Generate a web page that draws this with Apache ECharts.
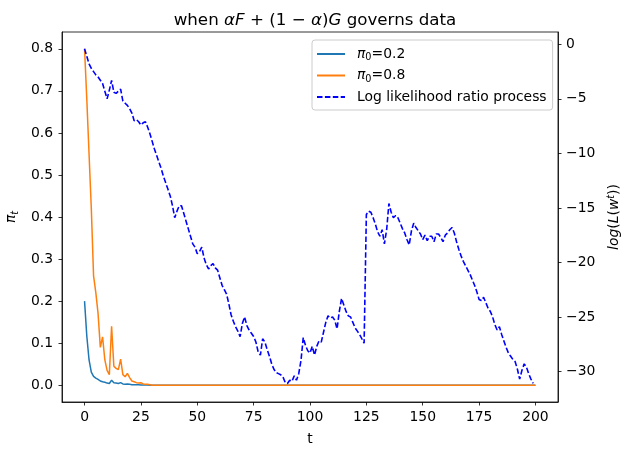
<!DOCTYPE html>
<html>
<head>
<meta charset="utf-8">
<script src="https://cdn.jsdelivr.net/npm/echarts@6/dist/echarts.min.js"></script>
<style>
  html, body { margin: 0; padding: 0; background: #fff; }
  #main { width: 633px; height: 455px; }
</style>
</head>
<body>
<div id="main"></div>
<script>
// tick labels
const xTicks = [0, 25, 50, 75, 100, 125, 150, 175, 200];
const piTicks = [0, 0.1, 0.2, 0.3, 0.4, 0.5, 0.6, 0.7, 0.8];
const logTicks = [-30, -25, -20, -15, -10, -5, 0];

const seriesNames = ['pi0=0.2', 'pi0=0.8', 'Log likelihood ratio process'];

// pi_t starting from pi_0 = 0.2, t = 0..200
const pi02 = [
  0.2, 0.117, 0.06, 0.031, 0.021, 0.017, 0.014, 0.01, 0.008, 0.007,
  0.005, 0.004, 0.012, 0.006, 0.005, 0.004, 0.006, 0.003, 0.002, 0.003,
  0.002, 0.001, 0.001, 0.001, 0.001, 0.0005, 0.0005, 0.0003, 0.0002, 0.0001,
  0,0,0,0,0,0,0,0,0,0, 0,0,0,0,0,0,0,0,0,0, 0,0,0,0,0,0,0,0,0,0,
  0,0,0,0,0,0,0,0,0,0, 0,0,0,0,0,0,0,0,0,0, 0,0,0,0,0,0,0,0,0,0,
  0,0,0,0,0,0,0,0,0,0, 0,0,0,0,0,0,0,0,0,0, 0,0,0,0,0,0,0,0,0,0,
  0,0,0,0,0,0,0,0,0,0, 0,0,0,0,0,0,0,0,0,0, 0,0,0,0,0,0,0,0,0,0,
  0,0,0,0,0,0,0,0,0,0, 0,0,0,0,0,0,0,0,0,0, 0,0,0,0,0,0,0,0,0,0,
  0,0,0,0,0,0,0,0,0,0, 0,0,0,0,0,0,0,0,0,0, 0
];

// pi_t starting from pi_0 = 0.8, t = 0..200
const pi08 = [
  0.8, 0.68, 0.55, 0.42, 0.26, 0.22, 0.17, 0.09, 0.115, 0.06,
  0.035, 0.025, 0.14, 0.045, 0.04, 0.037, 0.062, 0.025, 0.02, 0.028,
  0.018, 0.01, 0.008, 0.006, 0.005, 0.006, 0.003, 0.002, 0.002, 0.001,
  0,0,0,0,0,0,0,0,0,0, 0,0,0,0,0,0,0,0,0,0, 0,0,0,0,0,0,0,0,0,0,
  0,0,0,0,0,0,0,0,0,0, 0,0,0,0,0,0,0,0,0,0, 0,0,0,0,0,0,0,0,0,0,
  0,0,0,0,0,0,0,0,0,0, 0,0,0,0,0,0,0,0,0,0, 0,0,0,0,0,0,0,0,0,0,
  0,0,0,0,0,0,0,0,0,0, 0,0,0,0,0,0,0,0,0,0, 0,0,0,0,0,0,0,0,0,0,
  0,0,0,0,0,0,0,0,0,0, 0,0,0,0,0,0,0,0,0,0, 0,0,0,0,0,0,0,0,0,0,
  0,0,0,0,0,0,0,0,0,0, 0,0,0,0,0,0,0,0,0,0, 0
];

// log likelihood ratio, t = 0..199
const logLR = [
  -0.4, -1.1, -1.8, -2.2, -2.5, -2.8, -3.0, -3.3, -3.6, -4.3,
  -5.0, -4.2, -3.3, -4.4, -4.5, -4.3, -4.1, -5.2, -5.4, -5.6,
  -5.9, -6.3, -7.0, -6.9, -7.1, -7.4, -7.2, -7.1, -7.6, -8.2,
  -8.9, -9.6, -10.2, -10.8, -11.4, -12.1, -12.7, -13.3, -13.9, -14.8,
  -15.9, -15.3, -14.8, -14.8, -15.5, -16.2, -16.9, -17.6, -18.3, -18.6,
  -19.2, -19.0, -18.6, -19.6, -20.2, -20.6, -20.3, -20.1, -20.5, -20.7,
  -21.4, -22.1, -22.5, -22.9, -23.8, -24.8, -25.4, -25.9, -26.3, -26.8,
  -25.6, -25.0, -25.8, -26.2, -26.5, -26.8, -27.3, -28.2, -28.5, -27.0,
  -27.3, -28.0, -28.6, -29.3, -29.8, -30.1, -30.2, -30.3, -30.5, -31.0,
  -31.1, -30.8, -30.9, -30.4, -30.8, -30.2, -29.0, -26.9, -27.6, -28.1,
  -28.3, -27.7, -28.5, -27.7, -27.2, -27.3, -26.4, -25.5, -24.9, -25.1,
  -25.0, -25.3, -26.1, -24.5, -23.3, -23.9, -24.5, -24.9, -25.0, -25.5,
  -26.0, -26.3, -26.6, -27.0, -27.4, -15.6, -15.3, -15.4, -15.9, -16.5,
  -17.2, -17.6, -17.0, -18.3, -17.0, -14.6, -15.4, -15.9, -15.7, -15.9,
  -16.4, -16.9, -17.3, -17.9, -18.4, -17.1, -16.4, -16.8, -17.1, -17.4,
  -17.9, -17.5, -18.0, -17.6, -17.6, -18.1, -17.4, -17.4, -17.7, -18.1,
  -17.5, -17.3, -17.0, -16.8, -17.3, -18.1, -18.8, -19.4, -19.9, -20.3,
  -20.7, -21.1, -21.6, -22.1, -22.7, -23.4, -23.5, -23.2, -23.7, -24.2,
  -24.5, -25.0, -25.7, -26.2, -25.9, -26.6, -27.2, -27.8, -28.3, -28.6,
  -28.9, -29.1, -29.8, -30.7, -29.9, -29.3, -29.6, -30.2, -30.7, -31.1
];

const FONT = 'DejaVu Sans';
const FS = 13.9;
const SUB = 9.7;
const tick = { show: true, inside: false, length: 3.5, lineStyle: { color: '#000', width: 0.8 } };
const lbl = { color: '#000', fontFamily: FONT, fontSize: FS };
const minus = v => (v < 0 ? '\u2212' + Math.abs(v) : String(v));

const chart = echarts.init(document.getElementById('main'), null, { renderer: 'canvas' });

const option = {
  animation: false,
  backgroundColor: '#fff',
  title: {
    text: 'when {i|αF} + (1 \u2212 {i|α}){i|G} governs data',
    left: 310,
    top: 7,
    textAlign: 'center',
    textStyle: {
      color: '#000', fontFamily: FONT, fontSize: 16.7, fontWeight: 'normal',
      rich: { i: { fontStyle: 'italic', fontFamily: FONT, fontSize: 16.7, color: '#000' } }
    }
  },
  grid: {
    left: 62, right: 75, top: 32, bottom: 53,
    outerBoundsMode: 'none',
    containLabel: false,
    show: true, borderColor: '#000', borderWidth: 0.8, backgroundColor: 'transparent'
  },
  legend: {
    orient: 'vertical',
    left: 312,
    top: 40,
    padding: [7, 6, 6, 4],
    itemWidth: 28,
    itemHeight: 12,
    itemGap: 6,
    backgroundColor: 'rgba(255,255,255,0.8)',
    borderColor: '#cccccc',
    borderWidth: 1,
    borderRadius: 3,
    data: seriesNames,
    itemStyle: { opacity: 0 },
    formatter: function (name) {
      if (name === seriesNames[0]) return '{i|π}{s|0}{n|=0.2}';
      if (name === seriesNames[1]) return '{i|π}{s|0}{n|=0.8}';
      return '{n|' + name + '}';
    },
    textStyle: {
      color: '#000', fontFamily: FONT, fontSize: FS, padding: [0, 0, 0, 7],
      rich: {
        i: { fontStyle: 'italic', fontFamily: FONT, fontSize: FS, color: '#000' },
        s: { fontFamily: FONT, fontSize: SUB, color: '#000', padding: [7, 0, 0, 0] },
        n: { fontFamily: FONT, fontSize: FS, color: '#000' }
      }
    }
  },
  xAxis: {
    type: 'value',
    min: -10,
    max: 210,
    name: 't',
    nameLocation: 'middle',
    nameGap: 30,
    nameTextStyle: lbl,
    axisLine: { show: true, onZero: false, lineStyle: { color: '#000', width: 0.8 } },
    axisTick: Object.assign({ customValues: xTicks }, tick),
    axisLabel: Object.assign({ customValues: xTicks, margin: 8 }, lbl),
    splitLine: { show: false }
  },
  yAxis: [
    {
      type: 'value',
      position: 'left',
      min: -0.04,
      max: 0.84,
      name: '{i|π}{s|t}',
      nameLocation: 'middle',
      nameRotate: 90,
      nameGap: 40,
      nameTextStyle: Object.assign({
        rich: {
          i: { fontStyle: 'italic', fontFamily: FONT, fontSize: FS, color: '#000' },
          s: { fontStyle: 'italic', fontFamily: FONT, fontSize: SUB, color: '#000', padding: [7, 0, 0, 0] }
        }
      }, lbl),
      axisLine: { show: true, onZero: false, lineStyle: { color: '#000', width: 0.8 } },
      axisTick: Object.assign({ customValues: piTicks }, tick),
      axisLabel: Object.assign({ customValues: piTicks, margin: 9, formatter: v => v.toFixed(1) }, lbl),
      splitLine: { show: false }
    },
    {
      type: 'value',
      position: 'right',
      min: -32.8,
      max: 1.13,
      name: '{i|log}({i|L}({i|w}{p|t}))',
      nameLocation: 'middle',
      nameRotate: 90,
      nameGap: 46,
      nameTextStyle: Object.assign({
        rich: {
          i: { fontStyle: 'italic', fontFamily: FONT, fontSize: FS, color: '#000' },
          p: { fontStyle: 'italic', fontFamily: FONT, fontSize: SUB, color: '#000', padding: [0, 0, 7, 0] }
        }
      }, lbl),
      axisLine: { show: true, onZero: false, lineStyle: { color: '#000', width: 0.8 } },
      axisTick: Object.assign({ customValues: logTicks }, tick),
      axisLabel: Object.assign({ customValues: logTicks, margin: 8, formatter: minus }, lbl),
      splitLine: { show: false }
    }
  ],
  series: [
    {
      name: seriesNames[0],
      type: 'line',
      yAxisIndex: 0,
      symbol: 'none',
      color: '#1f77b4',
      lineStyle: { color: '#1f77b4', width: 1.5 },
      data: pi02.map((v, i) => [i, v])
    },
    {
      name: seriesNames[1],
      type: 'line',
      yAxisIndex: 0,
      symbol: 'none',
      color: '#ff7f0e',
      lineStyle: { color: '#ff7f0e', width: 1.5 },
      data: pi08.map((v, i) => [i, v])
    },
    {
      name: seriesNames[2],
      type: 'line',
      yAxisIndex: 1,
      symbol: 'none',
      color: '#0000ff',
      lineStyle: { color: '#0000ff', width: 1.6, type: [5.5, 2.4] },
      data: logLR.map((v, i) => [i, v])
    }
  ]
};

chart.setOption(option);
</script>
</body>
</html>
